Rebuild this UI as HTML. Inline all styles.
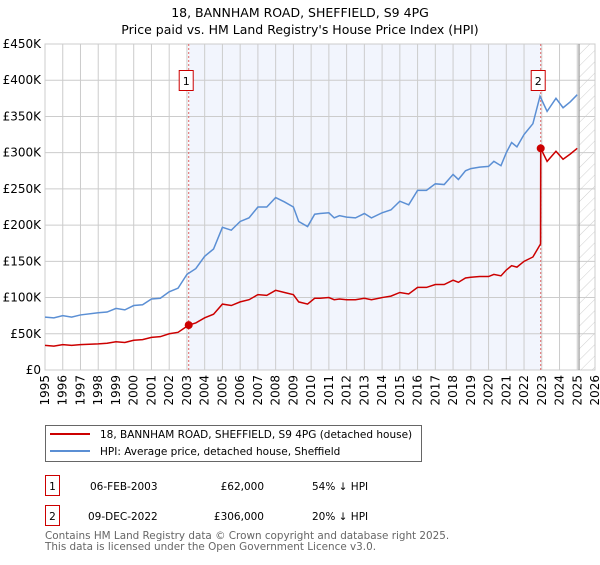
<!DOCTYPE html>
<html><head><meta charset="utf-8"><style>
body{margin:0;background:#fff;width:600px;height:560px;overflow:hidden;font-family:"Liberation Sans","DejaVu Sans",sans-serif;}
svg text{font-family:"DejaVu Sans","Liberation Sans",sans-serif;}
</style></head><body>
<svg id="chart" width="600" height="560" viewBox="0 0 600 560">
<defs>
<pattern id="hatch" width="8" height="8" patternUnits="userSpaceOnUse" patternTransform="rotate(45)">
<line x1="0" y1="0" x2="0" y2="8" stroke="#d0d0d0" stroke-width="1"/>
</pattern>
</defs>
<text x="300" y="17" text-anchor="middle" font-size="12.5" fill="#000">18, BANNHAM ROAD, SHEFFIELD, S9 4PG</text>
<text x="300" y="34" text-anchor="middle" font-size="12.5" fill="#000">Price paid vs. HM Land Registry's House Price Index (HPI)</text>
<g id="plot"></g>
<g>
<rect x="45.5" y="425.5" width="376" height="36" fill="#fff" stroke="#666"/>
<line x1="50" y1="434" x2="90" y2="434" stroke="#cc0000" stroke-width="2"/>
<text x="100" y="438" font-size="10.5">18, BANNHAM ROAD, SHEFFIELD, S9 4PG (detached house)</text>
<line x1="50" y1="451" x2="90" y2="451" stroke="#5b8fd4" stroke-width="2"/>
<text x="100" y="455" font-size="10.5">HPI: Average price, detached house, Sheffield</text>
</g>
<g font-size="10.5">
<rect x="45.5" y="475.5" width="14" height="20" fill="#fff" stroke="#cc0000"/>
<text x="52.5" y="490" text-anchor="middle">1</text>
<text x="90" y="490">06-FEB-2003</text>
<text x="264" y="490" text-anchor="end">£62,000</text>
<text x="312" y="490">54% ↓ HPI</text>
</g>
<g font-size="10.5">
<rect x="45.5" y="505.5" width="14" height="20" fill="#fff" stroke="#cc0000"/>
<text x="52.5" y="520" text-anchor="middle">2</text>
<text x="88" y="520">09-DEC-2022</text>
<text x="264" y="520" text-anchor="end">£306,000</text>
<text x="312" y="520">20% ↓ HPI</text>
</g>
<text x="45" y="539" font-size="10.4" fill="#666">Contains HM Land Registry data © Crown copyright and database right 2025.</text>
<text x="45" y="550" font-size="10.4" fill="#666">This data is licensed under the Open Government Licence v3.0.</text>
</svg>
<script>
const yTicks = [0,50000,100000,150000,200000,250000,300000,350000,400000,450000];
const yTickLabels = ["£0","£50K","£100K","£150K","£200K","£250K","£300K","£350K","£400K","£450K"];
const xYears = [1995,1996,1997,1998,1999,2000,2001,2002,2003,2004,2005,2006,2007,2008,2009,2010,2011,2012,2013,2014,2015,2016,2017,2018,2019,2020,2021,2022,2023,2024,2025,2026];
const hpiDates = [1995,1995.5,1996,1996.5,1997,1998,1998.5,1999,1999.5,2000,2000.5,2001,2001.5,2002,2002.5,2003,2003.5,2004,2004.5,2005,2005.5,2006,2006.5,2007,2007.5,2008,2008.5,2009,2009.3,2009.8,2010.2,2010.5,2011,2011.3,2011.6,2012,2012.5,2013,2013.4,2014,2014.5,2015,2015.5,2016,2016.5,2017,2017.5,2018,2018.3,2018.7,2019,2019.5,2020,2020.3,2020.7,2021,2021.3,2021.6,2022,2022.5,2022.9,2023.3,2023.8,2024.2,2024.6,2025];
const hpiValues = [73000,72000,75000,73000,76000,79000,80000,85000,83000,89000,90000,98000,99000,108000,113000,132000,140000,157000,167000,197000,193000,205000,210000,225000,225000,238000,232000,225000,205000,198000,215000,216000,217000,210000,213000,211000,210000,216000,210000,217000,221000,233000,228000,248000,248000,257000,256000,270000,263000,275000,278000,280000,281000,288000,282000,300000,314000,308000,325000,340000,378000,357000,375000,362000,370000,380000];
const redDates = [1995,1995.5,1996,1996.5,1997,1998,1998.5,1999,1999.5,2000,2000.5,2001,2001.5,2002,2002.5,2003.1,2003.5,2004,2004.5,2005,2005.5,2006,2006.5,2007,2007.5,2008,2008.5,2009,2009.3,2009.8,2010.2,2010.5,2011,2011.3,2011.6,2012,2012.5,2013,2013.4,2014,2014.5,2015,2015.5,2016,2016.5,2017,2017.5,2018,2018.3,2018.7,2019,2019.5,2020,2020.3,2020.7,2021,2021.3,2021.6,2022,2022.5,2022.93,2022.94,2023.3,2023.8,2024.2,2024.6,2025];
const redValues = [34000,33000,35000,34000,35000,36000,37000,39000,38000,41000,42000,45000,46000,50000,52000,62000,65000,72000,77000,91000,89000,94000,97000,104000,103000,110000,107000,104000,94000,91000,99000,99000,100000,97000,98000,97000,97000,99000,97000,100000,102000,107000,105000,114000,114000,118000,118000,124000,121000,127000,128000,129000,129000,132000,130000,138000,144000,142000,150000,156000,174000,306000,288000,302000,291000,298000,306000];
const saleDates = [2003.1,2022.94];
const salePrices = [62000,306000];
const saleLabels = ["1","2"];
const dataEnd = 2025.1;

const X0=45,X1=595,Y0=370,Y1=44;
const xs = d => X0 + (d-1995)/(2026-1995)*(X1-X0);
const ys = v => Y0 - v/450000*(Y0-Y1);
const NS="http://www.w3.org/2000/svg";
const g=document.getElementById('plot');
function mk(tag,attrs){const e=document.createElementNS(NS,tag);for(const k in attrs)e.setAttribute(k,attrs[k]);g.appendChild(e);return e;}

let sh=mk('rect',{x:xs(saleDates[0]),y:Y1,width:xs(saleDates[1])-xs(saleDates[0]),height:Y0-Y1,fill:'#f2f5fd'});


let ht=mk('rect',{x:xs(dataEnd),y:Y1,width:X1-xs(dataEnd),height:Y0-Y1,fill:'url(#hatch)'});



yTicks.forEach((t,i)=>{
  const l=mk('line',{x1:X0,x2:X1,y1:ys(t),y2:ys(t),stroke:'#ccc','stroke-width':1});
  
  
  const tx=mk('text',{x:X0-4,y:ys(t)+4,'text-anchor':'end','font-size':12,fill:'#000'});
  tx.textContent=yTickLabels[i];
  
  
});
xYears.forEach(yr=>{
  const l=mk('line',{x1:xs(yr),x2:xs(yr),y1:Y1,y2:Y0,stroke:'#ccc','stroke-width':1});
  
  
  const tx=mk('text',{x:0,y:0,'text-anchor':'end','font-size':12,fill:'#000',transform:`translate(${xs(yr)+4},${Y0+5}) rotate(-90)`});
  tx.textContent=yr;
  
  
});
let bd=mk('rect',{x:X0,y:Y1,width:X1-X0,height:Y0-Y1,fill:'none',stroke:'#ccc'});


let el=mk('line',{x1:xs(dataEnd),x2:xs(dataEnd),y1:Y1,y2:Y0,stroke:'#999','stroke-width':1.2});



saleDates.forEach((d,i)=>{
  const l=mk('line',{x1:xs(d),x2:xs(d),y1:Y1,y2:Y0,stroke:'#e06666','stroke-width':1,'stroke-dasharray':'2,2'});
  
  
});

const hp=mk('polyline',{points:hpiDates.map((d,i)=>xs(d)+','+ys(hpiValues[i])).join(' '),fill:'none',stroke:'#5b8fd4','stroke-width':1.5});


const rp=mk('polyline',{points:redDates.map((d,i)=>xs(d)+','+ys(redValues[i])).join(' '),fill:'none',stroke:'#cc0000','stroke-width':1.5});



saleDates.forEach((d,i)=>{
  const c=mk('circle',{cx:xs(d),cy:ys(salePrices[i]),r:4,fill:'#cc0000'});
  
  
  const r=mk('rect',{x:xs(d)-9.5,y:70.5,width:14,height:20,fill:'#fff',stroke:'#cc0000'});
  
  
  const t=mk('text',{x:xs(d)-2.5,y:85,'text-anchor':'middle','font-size':11,fill:'#000'});
  t.textContent=saleLabels[i];
  
  
});
</script>
</body></html>
